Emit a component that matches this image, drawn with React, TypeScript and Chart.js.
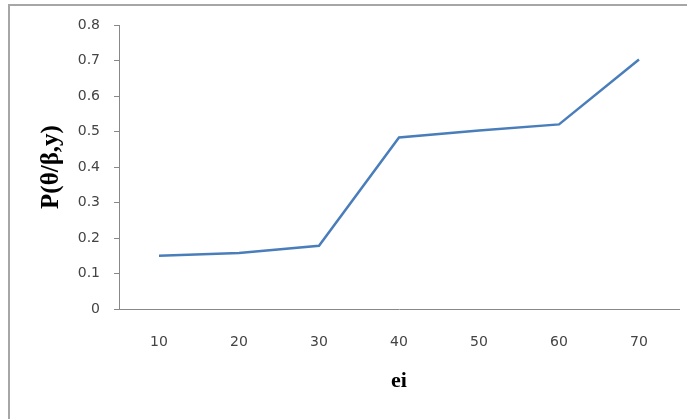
import React, { useEffect, useRef } from "react";
import { Chart, registerables } from "chart.js";

Chart.register(...registerables);

const categories = ["10", "20", "30", "40", "50", "60", "70"];
const values = [0.15, 0.158, 0.178, 0.483, 0.503, 0.52, 0.703];
const yTitle = "P(θ/β,y)";
const xTitle = "ei";

export default function App() {
  const ref = useRef<HTMLCanvasElement>(null);
  useEffect(() => {
    const chart = new Chart(ref.current!, {
      type: "line",
      data: {
        labels: categories,
        datasets: [
          {
            data: values,
            borderColor: "#4a7ebb",
            borderWidth: 2.5,
            pointRadius: 0,
            tension: 0,
            fill: false,
          },
        ],
      },
      options: {
        animation: false,
        responsive: false,
        layout: { padding: { top: 25, right: 8, left: 0, bottom: 0 } },
        plugins: { legend: { display: false }, tooltip: { enabled: false } },
        scales: {
          x: {
            offset: true,
            grid: { display: false, drawTicks: false },
            border: { display: true, color: "#888888", width: 1 },
            ticks: {
              padding: 25,
              color: "#444444",
              font: { family: "DejaVu Sans", size: 14 },
              maxRotation: 0,
            },
            title: {
              display: true,
              text: xTitle,
              color: "#000000",
              font: { family: "Liberation Serif", size: 22, weight: "bold" },
              padding: { top: 0, bottom: 24 },
            },
            afterFit: (s: any) => {
              s.height = 110;
            },
          },
          y: {
            min: 0,
            max: 0.8,
            grid: {
              drawOnChartArea: false,
              drawTicks: true,
              tickLength: 5,
              color: "#888888",
            },
            border: { display: true, color: "#888888", width: 1 },
            ticks: {
              stepSize: 0.1,
              padding: 14,
              color: "#444444",
              font: { family: "DejaVu Sans", size: 14 },
              callback: (v: any) => {
                const n = Math.round(Number(v) * 10) / 10;
                return n === 0 ? "0" : n.toFixed(1);
              },
            },
            title: {
              display: true,
              text: yTitle,
              color: "#000000",
              font: { family: "Liberation Serif", size: 25, weight: "bold" },
              padding: { top: 37, bottom: 0 },
            },
            afterFit: (s: any) => {
              s.width = 119;
            },
          },
        },
      },
    });
    return () => chart.destroy();
  }, []);
  return (
    <div style={{ position: "fixed", left: 0, top: 0, width: 687, height: 419, background: "#fff", overflow: "hidden" }}>
      <div
        style={{
          position: "absolute",
          left: 8,
          top: 4,
          width: 720,
          height: 440,
          border: "2px solid #a6a6a6",
          boxSizing: "border-box",
        }}
      />
      <canvas ref={ref} width={687} height={419} style={{ position: "absolute", left: 0, top: 0 }} />
    </div>
  );
}
